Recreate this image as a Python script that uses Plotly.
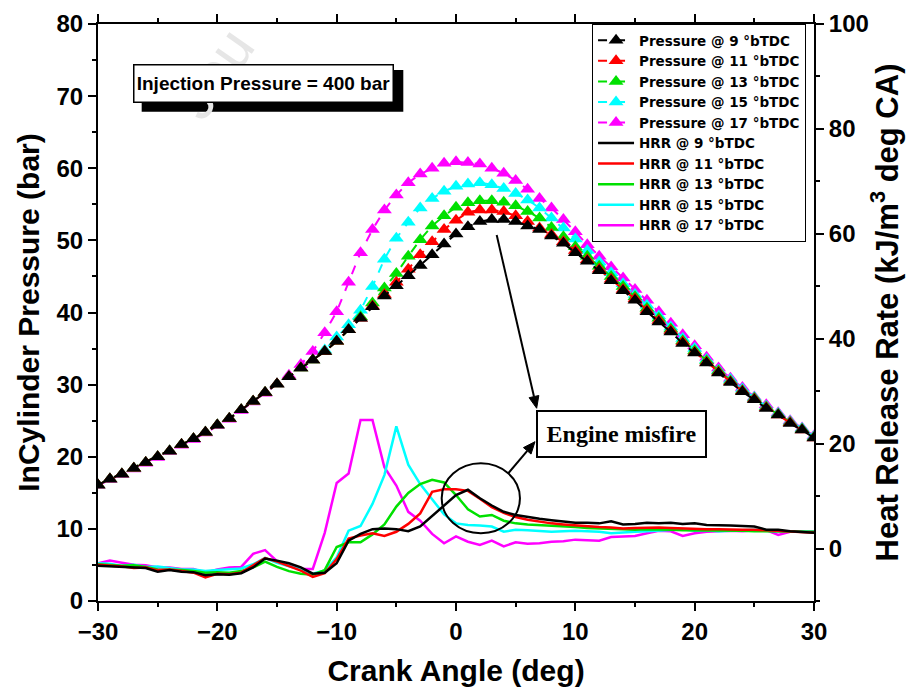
import plotly.graph_objects as go

crank = list(range(-30, 31))

p9 = [16.1, 16.9, 17.6, 18.4, 19.2, 20.0, 20.8, 21.7, 22.5, 23.4,
      24.4, 25.3, 26.5, 27.7, 28.9, 30.1, 31.1, 32.3, 33.4, 34.6,
      36.0, 37.6, 39.2, 40.8, 42.3, 43.7, 45.1, 46.5, 48.0, 49.5,
      50.9, 51.9, 52.6, 52.9, 52.9, 52.6, 52.0, 51.5, 50.6, 49.6,
      48.3, 47.1, 45.8, 44.4, 43.0, 41.7, 40.1, 38.7, 37.3, 35.7,
      34.4, 33.0, 31.6, 30.3, 29.0, 27.9, 26.7, 25.8, 24.6, 23.7, 22.6]
p11 = [16.1, 16.9, 17.6, 18.4, 19.2, 20.0, 20.8, 21.7, 22.5, 23.4,
       24.4, 25.3, 26.5, 27.7, 28.9, 30.1, 31.1, 32.3, 33.4, 34.6,
       36.0, 37.6, 39.2, 40.9, 42.5, 44.2, 46.0, 48.0, 49.8, 51.5,
       52.8, 53.9, 54.2, 54.2, 54.0, 53.4, 52.6, 51.7, 50.8, 49.8,
       48.6, 47.3, 46.0, 44.6, 43.2, 41.9, 40.3, 38.9, 37.5, 35.9,
       34.5, 33.1, 31.7, 30.4, 29.1, 28.0, 26.8, 25.8, 24.7, 23.7, 22.6]
p13 = [16.1, 16.9, 17.6, 18.4, 19.2, 20.0, 20.8, 21.7, 22.5, 23.4,
       24.4, 25.3, 26.5, 27.7, 28.9, 30.1, 31.1, 32.3, 33.4, 34.6,
       36.0, 37.6, 39.4, 41.3, 43.4, 45.4, 47.8, 50.1, 52.0, 53.4,
       54.6, 55.2, 55.5, 55.5, 55.3, 54.8, 54.0, 53.1, 51.8, 50.5,
       49.1, 47.8, 46.4, 45.0, 43.6, 42.2, 40.6, 39.2, 37.7, 36.1,
       34.7, 33.3, 31.9, 30.5, 29.2, 28.1, 26.9, 25.9, 24.8, 23.8, 22.7]
p15 = [16.1, 16.9, 17.6, 18.4, 19.2, 20.0, 20.8, 21.7, 22.5, 23.4,
       24.4, 25.3, 26.5, 27.7, 28.9, 30.1, 31.1, 32.3, 33.4, 34.8,
       36.6, 38.3, 40.3, 43.6, 47.4, 50.3, 52.5, 54.5, 55.8, 56.8,
       57.5, 57.8, 58.0, 57.7, 57.2, 56.5, 55.6, 54.5, 53.1, 51.7,
       50.2, 48.6, 47.0, 45.5, 44.0, 42.5, 41.0, 39.5, 38.0, 36.4,
       35.0, 33.5, 32.0, 30.7, 29.4, 28.2, 27.0, 26.0, 24.9, 23.9, 22.8]
p17 = [16.0, 16.8, 17.5, 18.3, 19.1, 19.9, 20.7, 21.6, 22.4, 23.3,
       24.3, 25.2, 26.4, 27.6, 28.8, 30.1, 31.3, 32.8, 34.6, 37.2,
       40.1, 44.2, 48.3, 51.5, 54.2, 56.3, 58.0, 59.2, 60.0, 60.7,
       60.9, 60.8, 60.6, 60.0, 59.3, 58.3, 57.1, 55.8, 54.5, 52.9,
       51.2, 49.4, 47.8, 46.3, 44.8, 43.2, 41.7, 40.1, 38.5, 36.9,
       35.4, 33.8, 32.3, 30.9, 29.6, 28.3, 27.2, 26.1, 25.0, 24.0, 22.9]

hrr9 = [-3.3, -3.4, -3.5, -3.6, -3.7, -4.4, -4.1, -4.4, -4.5, -5.1,
        -4.9, -5.0, -4.7, -3.6, -1.9, -2.3, -2.8, -3.6, -4.8, -4.6,
        -2.8, 1.5, 2.8, 3.7, 3.8, 3.7, 3.3, 4.2, 6.2, 8.3,
        10.2, 11.2, 9.6, 8.2, 7.0, 6.4, 6.0, 5.7, 5.4, 5.2,
        4.9, 4.9, 4.8, 5.2, 4.6, 4.7, 4.9, 4.8, 4.9, 4.7,
        4.8, 4.5, 4.5, 4.4, 4.3, 4.2, 3.6, 3.6, 3.3, 3.2, 3.0]
hrr11 = [-3.1, -3.2, -3.4, -3.7, -3.6, -4.2, -4.0, -4.3, -4.6, -5.5,
         -4.8, -4.9, -4.6, -3.2, -1.8, -2.5, -3.3, -4.2, -5.4, -4.7,
         -2.0, 1.9, 2.5, 2.9, 2.4, 3.2, 4.7, 6.7, 10.8, 11.3,
         11.3, 11.0, 9.5, 7.9, 6.8, 6.0, 5.5, 5.1, 4.8, 4.6,
         4.4, 4.2, 4.1, 4.0, 3.8, 3.9, 4.0, 4.0, 3.9, 3.8,
         3.8, 3.7, 3.7, 3.6, 3.6, 3.6, 3.5, 3.4, 3.3, 3.2, 3.0]
hrr13 = [-3.0, -3.1, -3.3, -3.2, -3.5, -4.0, -4.0, -4.1, -4.3, -4.6,
         -4.5, -4.6, -4.3, -3.6, -2.5, -3.5, -4.3, -4.8, -5.0, -4.1,
         0.3, 1.2, 1.2, 2.7, 4.6, 8.0, 10.6, 12.3, 13.1, 12.6,
         10.2, 7.5, 6.1, 6.4, 5.3, 4.8, 4.6, 4.5, 4.4, 4.3,
         4.1, 3.9, 3.8, 3.7, 3.7, 3.6, 3.7, 3.7, 3.6, 3.5,
         3.5, 3.4, 3.5, 3.4, 3.4, 3.3, 3.3, 3.3, 3.2, 3.2, 3.2]
hrr15 = [-2.8, -2.9, -3.3, -3.1, -3.5, -3.4, -3.7, -4.0, -4.0, -4.3,
         -4.1, -4.0, -3.8, -3.0, -1.8, -2.7, -3.3, -4.0, -4.8, -4.2,
         -1.7, 3.4, 4.3, 8.5, 14.0, 23.3, 16.0, 12.3, 9.4, 6.5,
         4.8, 4.5, 4.4, 4.2, 3.2, 3.6, 3.5, 3.4, 3.2, 3.3,
         3.4, 3.3, 3.2, 2.9, 3.1, 3.2, 3.3, 3.4, 3.5, 3.7,
         3.4, 3.5, 3.3, 3.4, 3.5, 3.6, 3.4, 3.3, 3.3, 3.2, 3.2]
hrr17 = [-2.8, -2.3, -2.7, -3.1, -3.2, -3.6, -3.6, -3.9, -3.9, -4.6,
         -4.0, -3.6, -3.5, -1.0, -0.3, -2.4, -3.3, -3.9, -3.9, 3.0,
         12.5, 14.3, 24.5, 24.5, 15.5, 12.0, 7.0, 5.3, 2.8, 1.0,
         2.3, 1.3, 0.7, 1.5, 0.4, 1.2, 0.9, 1.0, 1.3, 1.4,
         1.7, 1.6, 1.5, 2.2, 2.3, 2.4, 2.9, 3.4, 3.3, 2.4,
         2.9, 3.2, 3.3, 3.4, 3.3, 3.5, 3.5, 2.6, 3.2, 3.2, 3.2]

timings = ["9", "11", "13", "15", "17"]
colors = ["#000000", "#ff0000", "#00e000", "#00ffff", "#ff00ff"]
pressures = [p9, p11, p13, p15, p17]
hrrs = [hrr9, hrr11, hrr13, hrr15, hrr17]

FONT = "Liberation Sans, Arial, sans-serif"
X_RANGE = [-30, 30]
Y_RANGE = [0, 80]
Y2_RANGE = [-10, 100]

# figure geometry (page body adds an 8px offset)
W, H = 911, 687
ML, MR, MT, MB = 90, 105, 16, 94
PW, PH = W - ML - MR, H - MT - MB

fig = go.Figure()

for i in reversed(range(5)):
    fig.add_trace(go.Scatter(
        x=crank, y=pressures[i], mode="lines+markers",
        name=f"Pressure @ {timings[i]} °bTDC",
        line=dict(color=colors[i], width=2, dash="dash"),
        marker=dict(symbol="triangle-up", size=13, color=colors[i]),
        legendrank=i + 1, yaxis="y"))
for i in reversed(range(5)):
    fig.add_trace(go.Scatter(
        x=crank, y=hrrs[i], mode="lines",
        name=f"HRR @ {timings[i]} °bTDC",
        line=dict(color=colors[i], width=2.5),
        legendrank=i + 6, yaxis="y2"))

axis_common = dict(showline=True, linecolor="black", linewidth=2,
                   ticks="outside", ticklen=8, tickwidth=2, tickcolor="black",
                   showgrid=False, zeroline=False,
                   tickfont=dict(family=FONT, size=24, color="black", weight="bold"))
minor_common = dict(ticklen=4, tickwidth=2, ticks="outside", tickcolor="black")

fig.update_layout(
    width=W, height=H,
    margin=dict(l=ML, r=MR, t=MT, b=MB, autoexpand=False),
    paper_bgcolor="white", plot_bgcolor="white",
    showlegend=True,
    legend=dict(x=0.69, y=1.0, xanchor="left", yanchor="top",
                bgcolor="white", bordercolor="black", borderwidth=1,
                font=dict(family="DejaVu Sans, sans-serif", size=13.5, color="black", weight="bold"),
                itemwidth=36, tracegroupgap=0, traceorder="normal"),
    xaxis=dict(range=X_RANGE, dtick=10, tick0=-30, mirror="ticks",
               minor=dict(dtick=5, **minor_common),
               title=dict(text="Crank Angle (deg)", standoff=16,
                          font=dict(family=FONT, size=30, color="black", weight="bold")),
               **axis_common),
    yaxis=dict(range=Y_RANGE, dtick=10, tick0=0,
               minor=dict(dtick=5, **minor_common),
               title=dict(text="InCylinder Pressure (bar)", standoff=8,
                          font=dict(family=FONT, size=30, color="black", weight="bold")),
               **axis_common),
    yaxis2=dict(range=Y2_RANGE, dtick=20, tick0=0, overlaying="y", side="right",
                minor=dict(dtick=10, **minor_common),
                title=dict(text="Heat Release Rate (kJ/m<sup>3</sup> deg CA)", standoff=8,
                           font=dict(family=FONT, size=31, color="black", weight="bold")),
                **axis_common),
)

SX = PW / (X_RANGE[1] - X_RANGE[0])
SY = PH / (Y_RANGE[1] - Y_RANGE[0])


def add_arrow(x0, y0, x1, y1, head_len=12, head_half=5):
    dxp, dyp = (x1 - x0) * SX, (y1 - y0) * SY
    n = (dxp ** 2 + dyp ** 2) ** 0.5
    ux, uy = dxp / n, dyp / n
    bx, by = x1 - ux * head_len / SX, y1 - uy * head_len / SY
    lx, ly = bx - uy * head_half / SX, by + ux * head_half / SY
    rx, ry = bx + uy * head_half / SX, by - ux * head_half / SY
    fig.add_shape(type="line", xref="x", yref="y", x0=x0, y0=y0, x1=bx, y1=by,
                  line=dict(color="black", width=2), layer="above")
    fig.add_shape(type="path", xref="x", yref="y",
                  path=f"M {x1},{y1} L {lx},{ly} L {rx},{ry} Z",
                  fillcolor="black", line=dict(color="black", width=1), layer="above")


# shadow of the injection pressure box
fig.add_shape(type="rect", xref="paper", yref="paper",
              x0=0.061, x1=0.4264, y0=0.848, y1=0.9203,
              fillcolor="black", line=dict(width=0), layer="above")
# misfire ellipse
fig.add_shape(type="circle", xref="x", yref="y", x0=-1.2, x1=5.36, y0=9.39, y1=19.09,
              line=dict(color="black", width=2), layer="above")
add_arrow(3.41, 50.75, 6.76, 26.72)
add_arrow(4.38, 17.71, 6.62, 22.09)

annotations = [
    dict(text="Jou", xref="paper", yref="paper", x=0.16, y=0.915,
         xanchor="center", yanchor="middle", showarrow=False,
         textangle=-55, font=dict(family=FONT, size=58, color="#e6e6e6")),
    dict(text="Injection Pressure = 400 bar", xref="paper", yref="paper",
         x=0.2318, y=0.8977, xanchor="center", yanchor="middle", showarrow=False,
         width=256, height=34,
         bgcolor="white", bordercolor="black", borderwidth=1.5, borderpad=1,
         font=dict(family=FONT, size=19, color="black", weight="bold")),
    dict(text="Engine misfire", xref="x", yref="y", x=13.87, y=23.18,
         xanchor="center", yanchor="middle", showarrow=False,
         width=163, height=40, bgcolor="white", bordercolor="black", borderwidth=2, borderpad=2,
         font=dict(family="Liberation Serif, Times New Roman, serif", size=24,
                   color="black", weight="bold")),
]
fig.update_layout(annotations=annotations)

fig.write_html("out.html")
